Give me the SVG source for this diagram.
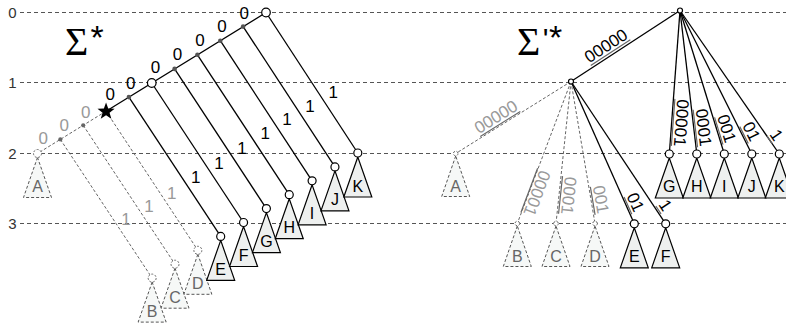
<svg xmlns="http://www.w3.org/2000/svg" width="786" height="328" viewBox="0 0 786 328">
<style>
  .lvl{stroke:#555;stroke-width:1;stroke-dasharray:4 3;fill:none}
  .lvlnum{font:15px "Liberation Sans",Arial,sans-serif;fill:#333;text-anchor:middle}
  .edge{stroke:#000;stroke-width:1.3;fill:none}
  .ghost{stroke:#666;stroke-width:1;stroke-dasharray:3 2;fill:none}
  .dot{fill:#555}
  .gdot{fill:#666}
  .open{fill:#fff;stroke:#000;stroke-width:1.2}
  .gopen{fill:#fff;stroke:#666;stroke-width:1;stroke-dasharray:2 1.5}
  .tri{fill:#eef0ef;stroke:#000;stroke-width:1.2}
  .gtri{fill:#f6f8f7;stroke:#555;stroke-width:1;stroke-dasharray:3 2}
  .nm{font:16px "Liberation Sans",Arial,sans-serif;fill:#000;text-anchor:middle}
  .gnm{fill:#666}
  .lab{font:17px "Liberation Sans",Arial,sans-serif;fill:#000;text-anchor:middle}
  .glab{fill:#999}
  .ul{stroke:#666;stroke-width:1.2}
  .sig{font:40px "Liberation Serif","Times New Roman",serif;fill:#000}
  .sup{font:34px "Liberation Sans",Arial,sans-serif;fill:#000;text-anchor:middle}
</style>
<defs>
  <polygon id="tri" points="0,4 -14,44 14,44"/>
  <polygon id="smalltri" points="0,2.5 -14,43 14,43"/>
  <polygon id="star" points="0,-9 2.17,-2.99 8.56,-2.78 3.52,1.14 5.29,7.28 0,3.7 -5.29,7.28 -3.52,1.14 -8.56,-2.78 -2.17,-2.99"/>
</defs>

<!-- depth levels -->
<g id="levels">
  <line class="lvl" x1="20" y1="12.5" x2="786" y2="12.5"/>
  <line class="lvl" x1="20" y1="82.5" x2="786" y2="82.5"/>
  <line class="lvl" x1="20" y1="153.5" x2="786" y2="153.5"/>
  <line class="lvl" x1="20" y1="223.5" x2="786" y2="223.5"/>
  <text class="lvlnum" x="12.5" y="18.4">0</text>
  <text class="lvlnum" x="12.5" y="87.9">1</text>
  <text class="lvlnum" x="12.5" y="159">2</text>
  <text class="lvlnum" x="12.5" y="229">3</text>
</g>

<text class="sig" x="65" y="55">Σ</text>
<text class="sup" x="97" y="49">*</text>
<text class="sig" x="517" y="55">Σ</text>
<text class="sup" x="545.5" y="49" style="font-size:30px">'</text>
<text class="sup" x="555.5" y="49">*</text>

<!-- connectors -->
<g id="connectors">
  <!-- trie over Σ* -->
  <line class="edge" x1="266" y1="12.5" x2="106.05" y2="111.2"/>
  <line class="ghost" x1="106.05" y1="111.2" x2="37.5" y2="153.5"/>
  <line class="edge" x1="266" y1="12.5" x2="357.8" y2="153"/>
  <line class="edge" x1="243.15" y1="26.6" x2="334.95" y2="166.9"/>
  <line class="edge" x1="220.3" y1="40.7" x2="312.1" y2="180.8"/>
  <line class="edge" x1="197.45" y1="54.8" x2="289.25" y2="194.7"/>
  <line class="edge" x1="174.6" y1="68.9" x2="266.4" y2="208.6"/>
  <line class="edge" x1="151.75" y1="83" x2="243.55" y2="222.5"/>
  <line class="edge" x1="128.9" y1="97.1" x2="220.7" y2="236.4"/>
  <line class="ghost" x1="106.05" y1="111.2" x2="197.85" y2="250.3"/>
  <line class="ghost" x1="83.2" y1="125.3" x2="175" y2="264.2"/>
  <line class="ghost" x1="60.35" y1="139.4" x2="152.15" y2="278.1"/>
  <!-- compacted trie over Σ'* -->
  <line class="edge" x1="571" y1="81.5" x2="680" y2="10.5"/>
  <line class="edge" x1="680" y1="10.5" x2="669.3" y2="154"/>
  <line class="edge" x1="680" y1="10.5" x2="696.8" y2="154"/>
  <line class="edge" x1="680" y1="10.5" x2="724.3" y2="154"/>
  <line class="edge" x1="680" y1="10.5" x2="751.8" y2="154"/>
  <line class="edge" x1="680" y1="10.5" x2="779.3" y2="154"/>
  <line class="edge" x1="571" y1="81.5" x2="634.3" y2="223.8"/>
  <line class="edge" x1="571" y1="81.5" x2="665.7" y2="223.8"/>
  <line class="ghost" x1="571" y1="81.5" x2="455.7" y2="153.5"/>
  <line class="ghost" x1="571" y1="81.5" x2="517.3" y2="223.5"/>
  <line class="ghost" x1="571" y1="81.5" x2="556" y2="223.5"/>
  <line class="ghost" x1="571" y1="81.5" x2="595" y2="223.5"/>
</g>

<!-- edge labels, Σ* -->
<g id="left-labels">
  <text class="lab" x="244.3" y="19">0</text>
  <text class="lab" x="222" y="31.5">0</text>
  <text class="lab" x="200" y="46">0</text>
  <text class="lab" x="177.5" y="59.5">0</text>
  <text class="lab" x="155.5" y="73">0</text>
  <text class="lab" x="130.8" y="88.8">0</text>
  <text class="lab" x="110.2" y="99.5">0</text>
  <text class="lab glab" x="85.7" y="117.7">0</text>
  <text class="lab glab" x="64.3" y="131">0</text>
  <text class="lab glab" x="43.3" y="144.3">0</text>
  <text class="lab" x="333.3" y="97.7">1</text>
  <text class="lab" x="310" y="111.8">1</text>
  <text class="lab" x="287" y="125.3">1</text>
  <text class="lab" x="265.3" y="139.3">1</text>
  <text class="lab" x="242" y="153.8">1</text>
  <text class="lab" x="219" y="169.3">1</text>
  <text class="lab" x="195.7" y="182.7">1</text>
  <text class="lab glab" x="171.7" y="198.7">1</text>
  <text class="lab glab" x="149" y="212">1</text>
  <text class="lab glab" x="126" y="225.3">1</text>
</g>

<!-- edge labels, Σ'* (underlined strings) -->
<g id="right-labels">
  <g transform="translate(605.9,45.6) rotate(-33.08)"><line class="ul" x1="-23.6" y1="8.5" x2="23.6" y2="8.5"/><text class="lab" y="6">00000</text></g>
  <g transform="translate(495.8,116.7) rotate(-31.98)"><line class="ul" x1="-23.6" y1="8.5" x2="23.6" y2="8.5"/><text class="lab glab" y="6">00000</text></g>
  <g transform="translate(681.6,123) rotate(94.26)"><line class="ul" x1="-23.6" y1="8.5" x2="23.6" y2="8.5"/><text class="lab" y="6">00001</text></g>
  <g transform="translate(703.8,127.5) rotate(83.32)"><line class="ul" x1="-18.9" y1="8.5" x2="18.9" y2="8.5"/><text class="lab" y="6">0001</text></g>
  <g transform="translate(726.9,128.5) rotate(72.84)"><line class="ul" x1="-14.2" y1="8.5" x2="14.2" y2="8.5"/><text class="lab" y="6">001</text></g>
  <g transform="translate(751.6,131.3) rotate(63.42)"><line class="ul" x1="-9.5" y1="8.5" x2="9.5" y2="8.5"/><text class="lab" y="6">01</text></g>
  <g transform="translate(776.6,134.9) rotate(55.32)"><line class="ul" x1="-4.7" y1="8.5" x2="4.7" y2="8.5"/><text class="lab" y="6">1</text></g>
  <g transform="translate(537.2,193.4) rotate(110.72)"><line class="ul" x1="-23.6" y1="8.5" x2="23.6" y2="8.5"/><text class="lab glab" y="6">00001</text></g>
  <g transform="translate(569,195.8) rotate(96.03)"><line class="ul" x1="-18.9" y1="8.5" x2="18.9" y2="8.5"/><text class="lab glab" y="6">0001</text></g>
  <g transform="translate(601.1,199.4) rotate(80.41)"><line class="ul" x1="-14.2" y1="8.5" x2="14.2" y2="8.5"/><text class="lab glab" y="6">001</text></g>
  <g transform="translate(635.7,202.1) rotate(65.97)"><line class="ul" x1="-9.5" y1="8.5" x2="9.5" y2="8.5"/><text class="lab" y="6">01</text></g>
  <g transform="translate(665.5,205.2) rotate(56.3)"><line class="ul" x1="-4.7" y1="8.5" x2="4.7" y2="8.5"/><text class="lab" y="6">1</text></g>
</g>

<!-- inner nodes, Σ* -->
<g id="l-root"><circle class="open" cx="266" cy="12.5" r="4.3"/></g>
<g id="l-0"><circle class="dot" cx="243.15" cy="26.6" r="2.3"/></g>
<g id="l-00"><circle class="dot" cx="220.3" cy="40.7" r="2.3"/></g>
<g id="l-000"><circle class="dot" cx="197.45" cy="54.8" r="2.3"/></g>
<g id="l-0000"><circle class="dot" cx="174.6" cy="68.9" r="2.3"/></g>
<g id="l-00000"><circle class="open" cx="151.75" cy="83" r="4.3"/></g>
<g id="l-000000"><circle class="dot" cx="128.9" cy="97.1" r="2.3"/></g>
<g id="l-star"><use href="#star" transform="translate(106.05,111.5)" fill="#000"/></g>
<g id="l-g8"><circle class="gdot" cx="83.2" cy="125.3" r="2.1"/></g>
<g id="l-g9"><circle class="gdot" cx="60.35" cy="139.4" r="2.1"/></g>

<!-- subtrees, Σ* -->
<g id="lA"><use href="#tri" x="37.5" y="153.5" class="gtri"/><circle class="gopen" cx="37.5" cy="153.5" r="4"/><text class="nm gnm" x="37.5" y="192">A</text></g>
<g id="lB"><use href="#tri" x="152.15" y="278.1" class="gtri"/><circle class="gopen" cx="152.15" cy="278.1" r="4"/><text class="nm gnm" x="152.15" y="316.6">B</text></g>
<g id="lC"><use href="#tri" x="175" y="264.2" class="gtri"/><circle class="gopen" cx="175" cy="264.2" r="4"/><text class="nm gnm" x="175" y="302.7">C</text></g>
<g id="lD"><use href="#tri" x="197.85" y="250.3" class="gtri"/><circle class="gopen" cx="197.85" cy="250.3" r="4"/><text class="nm gnm" x="197.85" y="288.8">D</text></g>
<g id="lE"><use href="#tri" x="220.7" y="236.4" class="tri"/><circle class="open" cx="220.7" cy="236.4" r="4"/><text class="nm" x="220.7" y="274.9">E</text></g>
<g id="lF"><use href="#tri" x="243.55" y="222.5" class="tri"/><circle class="open" cx="243.55" cy="222.5" r="4"/><text class="nm" x="243.55" y="261">F</text></g>
<g id="lG"><use href="#tri" x="266.4" y="208.6" class="tri"/><circle class="open" cx="266.4" cy="208.6" r="4"/><text class="nm" x="266.4" y="247.1">G</text></g>
<g id="lH"><use href="#tri" x="289.25" y="194.7" class="tri"/><circle class="open" cx="289.25" cy="194.7" r="4"/><text class="nm" x="289.25" y="233.2">H</text></g>
<g id="lI"><use href="#tri" x="312.1" y="180.8" class="tri"/><circle class="open" cx="312.1" cy="180.8" r="4"/><text class="nm" x="312.1" y="219.3">I</text></g>
<g id="lJ"><use href="#tri" x="334.95" y="166.9" class="tri"/><circle class="open" cx="334.95" cy="166.9" r="4"/><text class="nm" x="334.95" y="205.4">J</text></g>
<g id="lK"><use href="#tri" x="357.8" y="153" class="tri"/><circle class="open" cx="357.8" cy="153" r="4"/><text class="nm" x="357.8" y="191.5">K</text></g>

<!-- inner nodes, Σ'* -->
<g id="r-root"><circle class="open" cx="680" cy="10.5" r="2.5"/></g>
<g id="r-00000"><circle class="open" cx="571" cy="81.5" r="2.5"/></g>

<!-- subtrees, Σ'* -->
<g id="rA"><use href="#smalltri" x="455.7" y="153.5" class="gtri"/><circle class="gopen" cx="455.7" cy="153.5" r="2.3"/><text class="nm gnm" x="455.7" y="191.5">A</text></g>
<g id="rB"><use href="#smalltri" x="517.3" y="223.5" class="gtri"/><circle class="gopen" cx="517.3" cy="223.5" r="2.3"/><text class="nm gnm" x="517.3" y="261.5">B</text></g>
<g id="rC"><use href="#smalltri" x="556" y="223.5" class="gtri"/><circle class="gopen" cx="556" cy="223.5" r="2.3"/><text class="nm gnm" x="556" y="261.5">C</text></g>
<g id="rD"><use href="#smalltri" x="595" y="223.5" class="gtri"/><circle class="gopen" cx="595" cy="223.5" r="2.3"/><text class="nm gnm" x="595" y="261.5">D</text></g>
<g id="rE"><use href="#tri" x="634.3" y="223.8" class="tri"/><circle class="open" cx="634.3" cy="223.8" r="4"/><text class="nm" x="634.3" y="262">E</text></g>
<g id="rF"><use href="#tri" x="665.7" y="223.8" class="tri"/><circle class="open" cx="665.7" cy="223.8" r="4"/><text class="nm" x="665.7" y="262">F</text></g>
<g id="rG"><use href="#tri" x="669.3" y="154" class="tri"/><circle class="open" cx="669.3" cy="154" r="4"/><text class="nm" x="669.3" y="192">G</text></g>
<g id="rH"><use href="#tri" x="696.8" y="154" class="tri"/><circle class="open" cx="696.8" cy="154" r="4"/><text class="nm" x="696.8" y="192">H</text></g>
<g id="rI"><use href="#tri" x="724.3" y="154" class="tri"/><circle class="open" cx="724.3" cy="154" r="4"/><text class="nm" x="724.3" y="192">I</text></g>
<g id="rJ"><use href="#tri" x="751.8" y="154" class="tri"/><circle class="open" cx="751.8" cy="154" r="4"/><text class="nm" x="751.8" y="192">J</text></g>
<g id="rK"><use href="#tri" x="779.3" y="154" class="tri"/><circle class="open" cx="779.3" cy="154" r="4"/><text class="nm" x="779.3" y="192">K</text></g>
</svg>
